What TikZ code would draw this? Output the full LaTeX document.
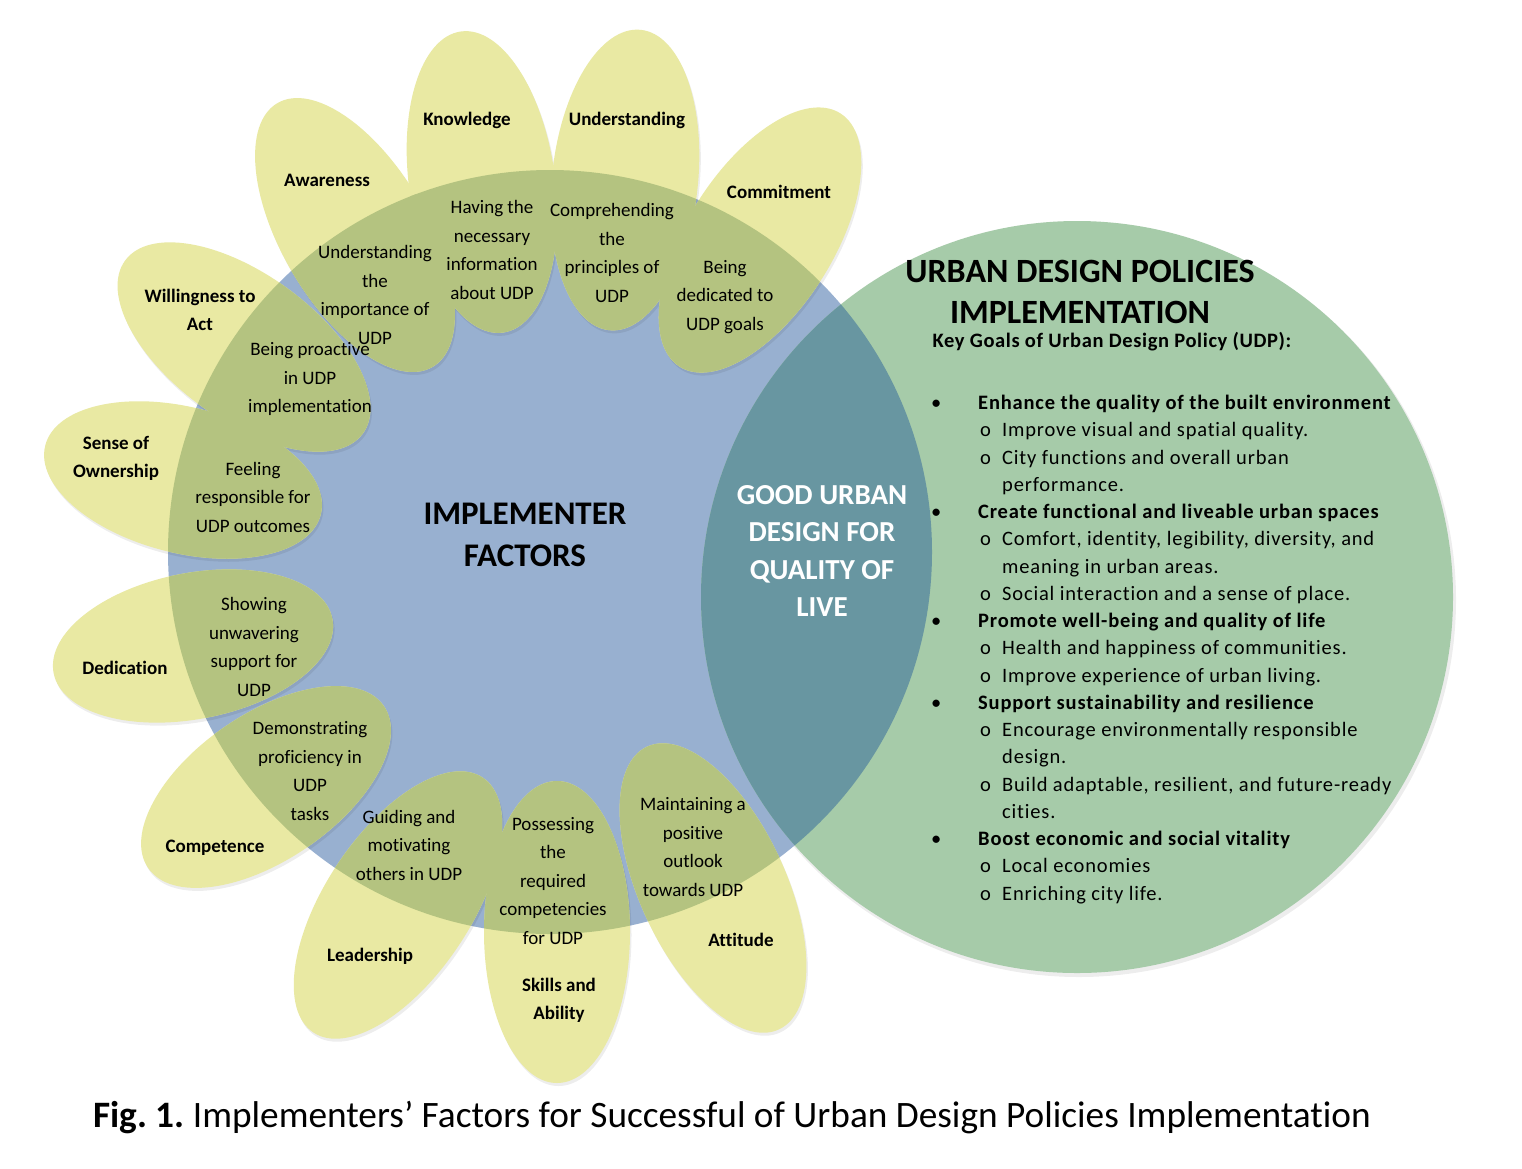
\documentclass[tikz,border=0pt]{standalone}
\usepackage{fontspec}
\setmainfont{Carlito}[Ligatures=NoCommon]
\newfontfamily\goalfont{Carlito}[Ligatures=NoCommon, LetterSpace=4]
\newfontfamily\keyfont{Carlito}[Ligatures=NoCommon, LetterSpace=3]
\usetikzlibrary{calc}
\definecolor{petalyellow}{RGB}{233,233,163}
\definecolor{petalolive}{RGB}{180,195,128}
\definecolor{factorblue}{RGB}{152,176,208}
\definecolor{policygreen}{RGB}{166,203,169}
\definecolor{overlapteal}{RGB}{104,150,161}
\def\petal[#1](#2)(#3:#4){\fill[#1,shift={(#2)},rotate=#3] (0,0) ellipse [x radius=#4pt, y radius=73pt];}
\frenchspacing

\begin{document}
\begin{tikzpicture}[x=1pt, y=-1pt,
    petalshadow/.style={black, opacity=0.07, xshift=1.5pt, yshift=-3pt},
    petaltext/.style={align=center, inner sep=0pt, font=\fontsize{19}{28.5}\selectfont},
    petalname/.style={align=center, inner sep=0pt, font=\fontsize{19}{28}\selectfont\bfseries}]
			%%%%% START %%%%%
			\fill[white] (0, 0) rectangle (1522, 1168);
			\useasboundingbox (0, 0) rectangle (1522, 1168);
			
			% the two circles and their overlap
			\fill[black, opacity=0.07] (1079, 600) circle (377);
			\fill[factorblue] (550, 552) circle (382);
			\fill[policygreen] (1077, 597) circle (376);
			\begin{scope}
				\clip (550, 552) circle (382);
				\fill[overlapteal] (1077, 597) circle (376);
			\end{scope}
			
			% soft shadows of the petals
			\petal[petalshadow](760, 240)(57.6:150)
			\petal[petalshadow](625, 180)(84:151)
			\petal[petalshadow](482, 182)(98:152)
			\petal[petalshadow](355, 235)(120.5:153)
			\petal[petalshadow](244, 347)(144:147)
			\petal[petalshadow](183, 480)(166:142)
			\petal[petalshadow](193, 646)(191:142)
			\petal[petalshadow](266, 787)(214.5:143)
			\petal[petalshadow](398, 905)(236.4:153)
			\petal[petalshadow](557, 932)(270:151)
			\petal[petalshadow](713, 888)(295:156)
			
			% petals
			\petal[petalyellow](760, 240)(57.6:150)
			\petal[petalyellow](625, 180)(84:151)
			\petal[petalyellow](482, 182)(98:152)
			\petal[petalyellow](355, 235)(120.5:153)
			\petal[petalyellow](244, 347)(144:147)
			\petal[petalyellow](183, 480)(166:142)
			\petal[petalyellow](193, 646)(191:142)
			\petal[petalyellow](266, 787)(214.5:143)
			\petal[petalyellow](398, 905)(236.4:153)
			\petal[petalyellow](557, 932)(270:151)
			\petal[petalyellow](713, 888)(295:156)
			
			% petals seen over the blue circle
			\begin{scope}
				\clip (550, 552) circle (382);
				\petal[petalolive](760, 240)(57.6:150)
				\petal[petalolive](625, 180)(84:151)
				\petal[petalolive](482, 182)(98:152)
				\petal[petalolive](355, 235)(120.5:153)
				\petal[petalolive](244, 347)(144:147)
				\petal[petalolive](183, 480)(166:142)
				\petal[petalolive](193, 646)(191:142)
				\petal[petalolive](266, 787)(214.5:143)
				\petal[petalolive](398, 905)(236.4:153)
				\petal[petalolive](557, 932)(270:151)
				\petal[petalolive](713, 888)(295:156)
			\end{scope}
			
			% outer names
			\node[petalname] (commitment) at (779, 192) {Commitment};
			\node[petalname] (understanding) at (627, 120) {Understanding};
			\node[petalname] (knowledge) at (467, 120) {Knowledge};
			\node[petalname] (awareness) at (327, 180) {Awareness};
			\node[petalname] (willingness) at (200, 310) {Willingness to\\Act};
			\node[petalname] (ownership) at (116, 458) {Sense of\\Ownership};
			\node[petalname] (dedication) at (125, 668) {Dedication};
			\node[petalname] (competence) at (215, 848) {Competence};
			\node[petalname] (leadership) at (370, 956) {Leadership};
			\node[petalname] (skills) at (559, 1000) {Skills and\\Ability};
			\node[petalname] (attitude) at (741, 940) {Attitude};
			
			% inner texts
			\node[petaltext] (commitmentin) at (725, 297) {Being\\dedicated to\\UDP goals};
			\node[petaltext] (understandingin) at (612, 253) {Comprehending\\the\\principles of\\UDP};
			\node[petaltext] (knowledgein) at (492, 250) {Having the\\necessary\\information\\about UDP};
			\node[petaltext] (awarenessin) at (375, 295) {Understanding\\the\\importance of\\UDP};
			\node[petaltext] (willingnessin) at (310, 379) {Being proactive\\in UDP\\implementation};
			\node[petaltext] (ownershipin) at (253, 497) {Feeling\\responsible for\\UDP outcomes};
			\node[petaltext] (dedicationin) at (254, 647) {Showing\\unwavering\\support for\\UDP};
			\node[petaltext] (competencein) at (310, 771) {Demonstrating\\proficiency in\\UDP\\tasks};
			\node[petaltext] (leadershipin) at (409, 845) {Guiding and\\motivating\\others in UDP};
			\node[petaltext] (skillsin) at (553, 881) {Possessing\\the\\required\\competencies\\for UDP};
			\node[petaltext] (attitudein) at (693, 847) {Maintaining a\\positive\\outlook\\towards UDP};
			
			% centre texts
			\node[align=center, font=\fontsize{33}{42}\selectfont\bfseries] (implementer) at (525, 535) {IMPLEMENTER\\FACTORS};
			\node[align=center, text=white, font=\fontsize{29}{37.3}\selectfont\bfseries] (good) at (822, 551) {GOOD URBAN\\DESIGN FOR\\QUALITY OF\\LIVE};
			\node[align=center, font=\fontsize{34}{41}\selectfont\bfseries] (policies) at (1080, 292) {URBAN DESIGN POLICIES\\IMPLEMENTATION};
			\node[font=\fontsize{20.5}{24}\selectfont\keyfont\bfseries] (keygoals) at (1112, 342) {Key Goals of Urban Design Policy (UDP):};
			
			% list of goals
			\node[anchor=north west, align=left, inner sep=0pt, font=\fontsize{20.5}{27.25}\selectfont\goalfont] (goals) at (931, 395) {%
				\makebox[47pt][l]{\textbullet}\textbf{Enhance the quality of the built environment}\\
				\hspace*{49pt}\makebox[22pt][l]{o}Improve visual and spatial quality.\\
				\hspace*{49pt}\makebox[22pt][l]{o}City functions and overall urban\\
				\hspace*{71pt}performance.\\
				\makebox[47pt][l]{\textbullet}\textbf{Create functional and liveable urban spaces}\\
				\hspace*{49pt}\makebox[22pt][l]{o}Comfort, identity, legibility, diversity, and\\
				\hspace*{71pt}meaning in urban areas.\\
				\hspace*{49pt}\makebox[22pt][l]{o}Social interaction and a sense of place.\\
				\makebox[47pt][l]{\textbullet}\textbf{Promote well-being and quality of life}\\
				\hspace*{49pt}\makebox[22pt][l]{o}Health and happiness of communities.\\
				\hspace*{49pt}\makebox[22pt][l]{o}Improve experience of urban living.\\
				\makebox[47pt][l]{\textbullet}\textbf{Support sustainability and resilience}\\
				\hspace*{49pt}\makebox[22pt][l]{o}Encourage environmentally responsible\\
				\hspace*{71pt}design.\\
				\hspace*{49pt}\makebox[22pt][l]{o}Build adaptable, resilient, and future-ready\\
				\hspace*{71pt}cities.\\
				\makebox[47pt][l]{\textbullet}\textbf{Boost economic and social vitality}\\
				\hspace*{49pt}\makebox[22pt][l]{o}Local economies\\
				\hspace*{49pt}\makebox[22pt][l]{o}Enriching city life.};
			
			% caption
			\node[font=\fontsize{37.3}{44}\selectfont] (caption) at (732, 1118) {\textbf{Fig. 1.} Implementers’ Factors for Successful of Urban Design Policies Implementation};
			%%%%% END %%%%%
\end{tikzpicture}
\end{document}
